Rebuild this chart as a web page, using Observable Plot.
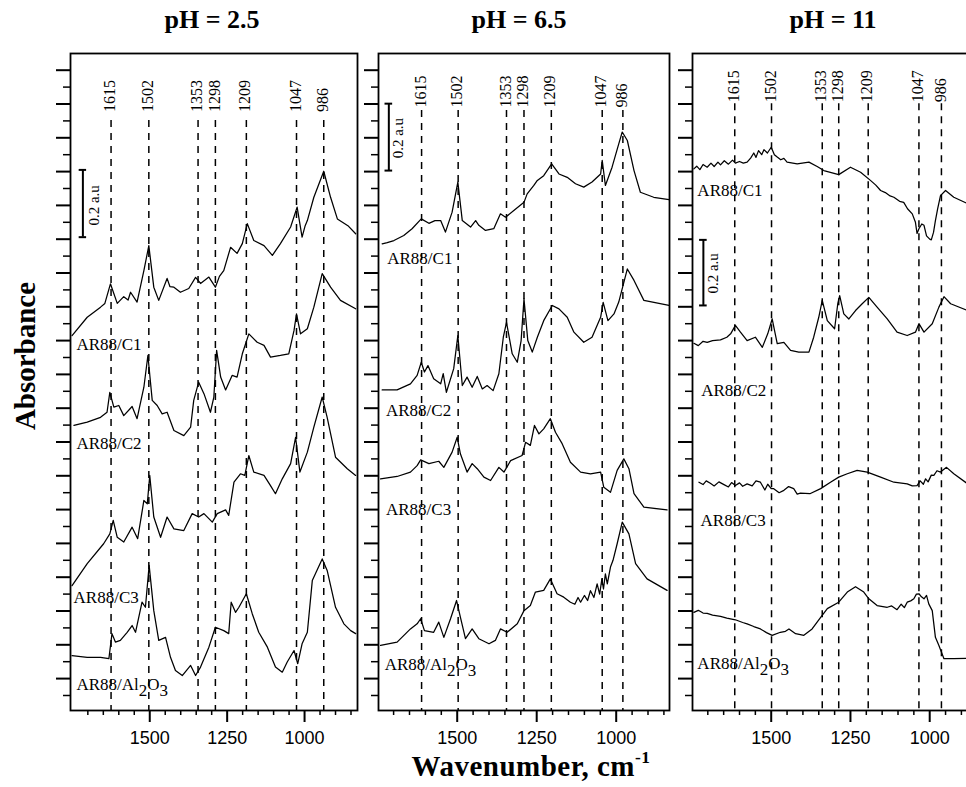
<!DOCTYPE html>
<html><head><meta charset="utf-8">
<script src="https://cdn.jsdelivr.net/npm/d3@7"></script>
<script src="https://cdn.jsdelivr.net/npm/@observablehq/plot@0.6"></script>
<style>
html,body{margin:0;padding:0;background:#fff;overflow:hidden;width:966px;height:787px}
#chart{position:relative;width:966px;height:787px;overflow:hidden;background:#fff}
.title{position:absolute;top:5px;width:220px;margin-left:-110px;text-align:center;font:bold 26px/30px "Liberation Serif",serif;color:#000}
.panel{position:absolute;top:0}
#ylab{position:absolute;left:25px;top:356px;transform:translate(-50%,-50%) rotate(-90deg);font:bold 29px/29px "Liberation Serif",serif;white-space:nowrap;color:#000}
#xlab{position:absolute;left:531px;top:752px;transform:translateX(-50%);font:bold 29px/29px "Liberation Serif",serif;white-space:nowrap;color:#000;letter-spacing:0.5px}
#xlab sup{font-size:0.6em;vertical-align:0.75em;line-height:0}
</style></head>
<body><div id="chart"></div>
<script>
// ---------- data ----------
const panelTitles = ["pH = 2.5", "pH = 6.5", "pH = 11"];
const samples = ["AR88/C1", "AR88/C2", "AR88/C3", "AR88/Al2O3"];
const wavenumberTicks = [1500, 1250, 1000];
const peakLabels = ["1615", "1502", "1353", "1298", "1209", "1047", "986"];
// where each dashed peak line sits on each panel's wavenumber axis
const peakPos_pH25 = [1625, 1503, 1344, 1288, 1188, 1026, 938];
const peakPos_pH65 = [1612, 1497, 1345, 1290, 1204, 1044, 979];
const peakPos_pH11 = [1615, 1499, 1339, 1287, 1194, 1034, 963];

// spectra: [wavenumber (cm-1), absorbance (a.u., offset)]
const pH25_C1 = [[1751,1.065],[1702,1.119],[1659,1.149],[1645,1.16],[1627,1.218],[1605,1.16],[1584,1.18],[1570,1.17],[1562,1.193],[1541,1.164],[1519,1.257],[1503,1.331],[1487,1.208],[1471,1.169],[1444,1.234],[1435,1.21],[1422,1.208],[1401,1.193],[1374,1.204],[1352,1.237],[1336,1.219],[1309,1.238],[1288,1.208],[1275,1.24],[1261,1.257],[1239,1.326],[1218,1.308],[1201,1.337],[1185,1.396],[1164,1.346],[1131,1.331],[1104,1.302],[1078,1.337],[1045,1.386],[1024,1.445],[1008,1.356],[998,1.39],[991,1.405],[970,1.474],[938,1.551],[916,1.474],[894,1.41],[860,1.39],[835,1.366]];
const pH25_C2 = [[1745,0.799],[1702,0.809],[1659,0.823],[1638,0.838],[1629,0.897],[1616,0.853],[1600,0.858],[1584,0.828],[1557,0.855],[1541,0.819],[1519,0.912],[1506,1.006],[1492,0.873],[1476,0.858],[1460,0.833],[1444,0.838],[1422,0.784],[1390,0.769],[1368,0.794],[1358,0.873],[1342,0.927],[1325,0.893],[1304,0.838],[1293,0.883],[1284,1.021],[1271,0.942],[1255,0.904],[1234,0.947],[1218,0.942],[1201,1.011],[1180,1.07],[1153,1.045],[1131,1.036],[1110,1.001],[1078,1.006],[1051,1.011],[1034,1.08],[1026,1.129],[1013,1.07],[991,1.085],[970,1.149],[943,1.248],[916,1.208],[884,1.169],[835,1.144]];
const pH25_C3 = [[1751,0.325],[1702,0.39],[1649,0.449],[1629,0.478],[1618,0.518],[1605,0.468],[1584,0.454],[1557,0.498],[1539,0.464],[1519,0.577],[1508,0.567],[1500,0.651],[1487,0.528],[1465,0.468],[1444,0.528],[1422,0.493],[1390,0.488],[1363,0.538],[1342,0.528],[1325,0.538],[1298,0.513],[1282,0.538],[1255,0.549],[1245,0.533],[1228,0.631],[1207,0.656],[1193,0.651],[1180,0.71],[1164,0.661],[1131,0.651],[1110,0.621],[1094,0.597],[1072,0.641],[1045,0.686],[1029,0.764],[1015,0.661],[991,0.72],[970,0.794],[943,0.883],[927,0.823],[900,0.705],[862,0.671],[835,0.651]];
const pH25_Al = [[1751,0.118],[1702,0.113],[1659,0.113],[1632,0.109],[1622,0.183],[1611,0.158],[1595,0.163],[1573,0.187],[1557,0.207],[1546,0.187],[1525,0.276],[1514,0.261],[1502,0.385],[1487,0.251],[1471,0.163],[1449,0.172],[1433,0.113],[1417,0.074],[1395,0.059],[1368,0.089],[1352,0.059],[1336,0.084],[1309,0.143],[1288,0.202],[1261,0.192],[1245,0.183],[1237,0.276],[1223,0.246],[1212,0.261],[1188,0.301],[1169,0.242],[1148,0.187],[1120,0.143],[1094,0.084],[1072,0.069],[1056,0.099],[1034,0.133],[1022,0.094],[1008,0.153],[991,0.187],[975,0.34],[943,0.404],[927,0.37],[900,0.261],[873,0.212],[851,0.192],[835,0.183]];

const pH65_C1 = [[1736,1.336],[1720,1.34],[1699,1.346],[1668,1.361],[1642,1.381],[1613,1.41],[1589,1.397],[1570,1.405],[1552,1.405],[1537,1.371],[1516,1.43],[1498,1.519],[1484,1.405],[1458,1.386],[1442,1.405],[1432,1.391],[1411,1.376],[1385,1.381],[1364,1.425],[1348,1.415],[1322,1.435],[1290,1.459],[1280,1.484],[1259,1.509],[1248,1.524],[1228,1.538],[1203,1.573],[1180,1.543],[1154,1.533],[1128,1.514],[1102,1.504],[1076,1.519],[1049,1.543],[1044,1.583],[1034,1.509],[1013,1.563],[992,1.632],[981,1.667],[965,1.642],[944,1.553],[924,1.489],[882,1.474],[834,1.467]];
const pH65_C2 = [[1736,0.904],[1689,0.904],[1647,0.922],[1626,0.947],[1613,0.986],[1603,0.957],[1592,0.976],[1574,0.937],[1552,0.922],[1544,0.952],[1534,0.897],[1511,0.967],[1498,1.065],[1484,0.917],[1469,0.942],[1453,0.912],[1437,0.944],[1421,0.907],[1406,0.917],[1387,0.902],[1369,0.952],[1355,1.06],[1345,1.104],[1327,1.011],[1311,0.986],[1299,1.05],[1290,1.174],[1278,1.05],[1264,1.016],[1248,1.06],[1228,1.109],[1201,1.154],[1180,1.144],[1154,1.119],[1133,1.075],[1102,1.045],[1076,1.06],[1049,1.119],[1041,1.163],[1026,1.109],[1007,1.129],[992,1.164],[965,1.262],[944,1.228],[913,1.169],[834,1.154]];
const pH65_C3 = [[1741,0.641],[1689,0.648],[1647,0.661],[1626,0.68],[1615,0.697],[1589,0.686],[1558,0.693],[1542,0.675],[1516,0.72],[1500,0.764],[1490,0.715],[1469,0.661],[1453,0.686],[1437,0.671],[1416,0.646],[1395,0.636],[1369,0.675],[1353,0.661],[1332,0.695],[1296,0.71],[1285,0.749],[1270,0.74],[1257,0.799],[1243,0.774],[1228,0.789],[1207,0.819],[1191,0.779],[1170,0.745],[1144,0.69],[1112,0.661],[1081,0.656],[1049,0.661],[1039,0.616],[1018,0.601],[997,0.666],[976,0.7],[960,0.671],[944,0.597],[913,0.557],[840,0.549]];
const pH65_Al = [[1741,0.148],[1689,0.158],[1647,0.197],[1626,0.212],[1615,0.227],[1603,0.192],[1574,0.187],[1558,0.217],[1542,0.172],[1521,0.227],[1502,0.281],[1490,0.232],[1474,0.168],[1453,0.197],[1432,0.168],[1400,0.153],[1380,0.163],[1364,0.197],[1343,0.187],[1311,0.212],[1290,0.251],[1270,0.266],[1254,0.306],[1228,0.311],[1207,0.345],[1186,0.301],[1165,0.291],[1144,0.276],[1130,0.27],[1120,0.29],[1112,0.276],[1100,0.296],[1090,0.281],[1081,0.31],[1070,0.29],[1060,0.33],[1052,0.3],[1045,0.345],[1040,0.315],[1034,0.36],[1028,0.33],[1018,0.38],[1010,0.4],[997,0.449],[981,0.513],[960,0.478],[939,0.39],[903,0.345],[840,0.311]];

const pH11_C1 = [[1744,1.558],[1735,1.566],[1725,1.556],[1715,1.571],[1702,1.563],[1690,1.575],[1680,1.565],[1668,1.578],[1660,1.57],[1648,1.582],[1635,1.572],[1622,1.584],[1613,1.575],[1600,1.58],[1588,1.575],[1576,1.578],[1565,1.59],[1555,1.605],[1548,1.592],[1540,1.612],[1530,1.6],[1523,1.615],[1512,1.605],[1500,1.622],[1490,1.6],[1481,1.593],[1470,1.585],[1460,1.589],[1450,1.578],[1418,1.573],[1381,1.578],[1355,1.565],[1334,1.553],[1287,1.541],[1250,1.563],[1218,1.548],[1187,1.524],[1170,1.51],[1155,1.494],[1140,1.488],[1125,1.478],[1113,1.474],[1095,1.462],[1082,1.459],[1070,1.44],[1055,1.425],[1045,1.4],[1040,1.367],[1034,1.381],[1025,1.395],[1018,1.391],[1010,1.36],[1000,1.35],[995,1.348],[988,1.37],[982,1.405],[975,1.44],[966,1.479],[950,1.494],[924,1.474],[880,1.455]];
const pH11_C2 = [[1744,1.042],[1730,1.035],[1715,1.048],[1702,1.045],[1685,1.05],[1660,1.052],[1640,1.06],[1628,1.07],[1613,1.095],[1597,1.075],[1576,1.05],[1550,1.06],[1528,1.03],[1511,1.07],[1497,1.114],[1481,1.041],[1460,1.045],[1439,1.021],[1413,1.016],[1381,1.016],[1366,1.06],[1350,1.119],[1339,1.169],[1323,1.109],[1300,1.085],[1290,1.159],[1284,1.183],[1271,1.129],[1255,1.114],[1234,1.139],[1213,1.159],[1192,1.178],[1166,1.149],[1134,1.114],[1103,1.075],[1071,1.065],[1045,1.075],[1034,1.1],[1018,1.075],[992,1.1],[971,1.149],[955,1.18],[934,1.159],[880,1.139]];
const pH11_C3 = [[1728,0.631],[1715,0.624],[1705,0.635],[1692,0.628],[1680,0.62],[1665,0.632],[1649,0.624],[1635,0.617],[1625,0.63],[1613,0.621],[1600,0.629],[1590,0.619],[1576,0.626],[1560,0.62],[1548,0.635],[1534,0.631],[1520,0.608],[1511,0.625],[1500,0.612],[1492,0.612],[1475,0.6],[1460,0.607],[1445,0.618],[1429,0.612],[1418,0.596],[1408,0.599],[1378,0.597],[1344,0.612],[1313,0.631],[1287,0.646],[1260,0.656],[1229,0.666],[1197,0.661],[1155,0.646],[1113,0.631],[1071,0.626],[1055,0.62],[1040,0.621],[1030,0.635],[1020,0.625],[1013,0.641],[1005,0.632],[995,0.652],[987,0.651],[977,0.665],[966,0.661],[947,0.675],[924,0.656],[880,0.626]];
const pH11_Al = [[1744,0.246],[1730,0.252],[1715,0.244],[1702,0.243],[1685,0.238],[1660,0.234],[1640,0.229],[1613,0.224],[1590,0.216],[1576,0.212],[1555,0.204],[1534,0.197],[1515,0.186],[1497,0.178],[1471,0.187],[1455,0.19],[1444,0.197],[1423,0.183],[1397,0.178],[1371,0.197],[1344,0.231],[1323,0.257],[1287,0.276],[1260,0.306],[1234,0.322],[1208,0.306],[1192,0.286],[1166,0.266],[1134,0.261],[1120,0.265],[1103,0.254],[1090,0.27],[1080,0.26],[1071,0.276],[1060,0.28],[1050,0.286],[1042,0.3],[1034,0.301],[1026,0.292],[1018,0.286],[1010,0.296],[1003,0.271],[992,0.251],[982,0.172],[971,0.148],[955,0.109],[924,0.109],[880,0.11]];

// ---------- layout / styling ----------
const yDomain = [-0.0444, 1.8994];
const yShortTicks = d3.range(0, 19).map(i => +(i * 0.1).toFixed(2));
const yLongTicks = d3.range(0, 19).map(i => +(i * 0.1 + 0.05).toFixed(2));
const xMinorTicks = d3.range(850, 1701, 50).filter(v => !wavenumberTicks.includes(v));
const serif = "Liberation Serif";

const panels = [
  {svgLeft: 50, frameW: 287, xDomain: [1756, 829], curves: [pH25_C1, pH25_C2, pH25_C3, pH25_Al],
   labelX: [1737, 1737, 1746, 1737], labelY: [1.037, 0.746, 0.291, 0.033],
   peaks: peakPos_pH25, peakTextY: 1.726, peakLineTop: 1.701,
   barX: 1716, barY: [1.356, 1.555], barTextY: 1.45, barTextDx: 11},
  {svgLeft: 358, frameW: 291, xDomain: [1747.5, 832.4], curves: [pH65_C1, pH65_C2, pH65_C3, pH65_Al],
   labelX: [1720, 1724, 1724, 1728], labelY: [1.294, 0.843, 0.549, 0.092],
   peaks: peakPos_pH65, peakTextY: 1.74, peakLineTop: 1.731,
   barX: 1715, barY: [1.553, 1.751], barTextY: 1.649, barTextDx: 9},
  {svgLeft: 672, frameW: 291, xDomain: [1748.3, 830.3], curves: [pH11_C1, pH11_C2, pH11_C3, pH11_Al],
   labelX: [1733, 1721, 1723, 1733], labelY: [1.494, 0.901, 0.519, 0.094],
   peaks: peakPos_pH11, peakTextY: 1.755, peakLineTop: 1.751,
   barX: 1714, barY: [1.154, 1.348], barTextY: 1.249, barTextDx: 10}
];

const titleCenters = [212, 519, 833];
const chart = document.getElementById("chart");

function subscriptify(svg) {
  svg.querySelectorAll("text").forEach(t => {
    if (t.textContent === "AR88/Al2O3") {
      t.textContent = "";
      for (const [s, dy] of [["AR88/Al", 0], ["2", 6], ["O", -6], ["3", 6]]) {
        const ts = document.createElementNS("http://www.w3.org/2000/svg", "tspan");
        if (dy) ts.setAttribute("dy", dy);
        ts.textContent = s;
        t.appendChild(ts);
      }
    }
  });
}

panels.forEach((p, k) => {
  const mL = 20, mR = 10;
  const svg = Plot.plot({
    width: mL + p.frameW + mR,
    height: 787,
    marginLeft: mL, marginRight: mR, marginTop: 53, marginBottom: 77,
    x: {domain: p.xDomain},
    y: {domain: yDomain},
    style: {fontFamily: "Liberation Sans", fontSize: "18px", color: "#000", background: "transparent", overflow: "visible"},
    marks: [
      Plot.axisY({ticks: yShortTicks, tickSize: 7, strokeWidth: 1.5, tickFormat: () => "", label: null}),
      Plot.axisY({ticks: yLongTicks, tickSize: 14, strokeWidth: 2, tickFormat: () => "", label: null}),
      Plot.axisX({ticks: xMinorTicks, tickSize: 5, strokeWidth: 1.5, tickFormat: () => "", label: null}),
      Plot.axisX({ticks: wavenumberTicks, tickSize: 12, strokeWidth: 2, tickPadding: 9, fontSize: 18, tickFormat: d => String(d), label: null}),
      Plot.ruleX(p.peaks, {x: d => d, y1: p.peakLineTop, y2: yDomain[0], stroke: "#000", strokeWidth: 1.5, strokeDasharray: "7,6"}),
      Plot.text(p.peaks, {x: d => d, y: p.peakTextY, text: (d, i) => peakLabels[i], rotate: -90, textAnchor: "start", lineAnchor: "middle", dx: -1, fontFamily: serif, fontSize: 16, fill: "#000"}),
      ...p.curves.map(c => Plot.line(c, {x: d => d[0], y: d => d[1], stroke: "#000", strokeWidth: 1.25})),
      Plot.text(samples, {x: (d, i) => p.labelX[i], y: (d, i) => p.labelY[i], text: d => d, textAnchor: "start", lineAnchor: "middle", fontFamily: serif, fontSize: 17, fill: "#000"}),
      Plot.ruleX([p.barX], {x: d => d, y1: p.barY[0], y2: p.barY[1], stroke: "#000", strokeWidth: 2}),
      Plot.ruleY(p.barY, {y: d => d, x1: p.barX + 12, x2: p.barX - 12, stroke: "#000", strokeWidth: 2}),
      Plot.text(["0.2 a.u"], {x: p.barX, y: p.barTextY, text: d => d, rotate: -90, dx: p.barTextDx, textAnchor: "middle", lineAnchor: "middle", fontFamily: serif, fontSize: 15, fill: "#000"}),
      Plot.frame({stroke: "#000", strokeWidth: 1.8})
    ]
  });
  subscriptify(svg);
  svg.classList.add("panel");
  svg.style.left = p.svgLeft + "px";
  svg.style.position = "absolute";
  svg.style.top = "0px";
  chart.appendChild(svg);

  const t = document.createElement("div");
  t.className = "title";
  t.style.left = titleCenters[k] + "px";
  t.textContent = panelTitles[k];
  chart.appendChild(t);
});

const yl = document.createElement("div");
yl.id = "ylab"; yl.textContent = "Absorbance";
chart.appendChild(yl);
const xl = document.createElement("div");
xl.id = "xlab"; xl.innerHTML = "Wavenumber, cm<sup>-1</sup>";
chart.appendChild(xl);
</script>
</body></html>
